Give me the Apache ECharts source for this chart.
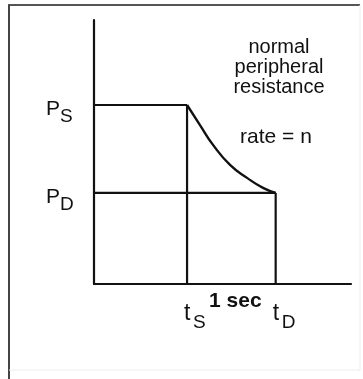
<!DOCTYPE html>
<html>
<head>
<meta charset="utf-8">
<script src="https://cdn.jsdelivr.net/npm/echarts@6/dist/echarts.min.js"></script>
<style>
  html, body { margin: 0; padding: 0; background: #fff; }
  #main { width: 363px; height: 379px; }
</style>
</head>
<body>
<div id="main"></div>
<script>
// time marks on x (seconds), t_S and t_D
var timeNames = ['S', 'D'];
var timeValues = [1.05, 2.05];
// pressure marks on y (arbitrary units), P_S and P_D
var pressureNames = ['S', 'D'];
var pressureValues = [67.8, 34.5];
// decay curve from P_S at t_S to P_D at t_D
var decayX = [1.05, 1.196, 1.343, 1.535, 1.727, 1.907, 2.05];
var decayY = [67.8, 60.2, 52.7, 45.1, 40.2, 36.4, 34.5];
var noteLines = ['normal', 'peripheral', 'resistance'];
var rateText = 'rate = n';
var spanText = '1 sec';

var ink = '#111';
var font = 'Liberation Sans, Arial, sans-serif';

var tS = timeValues[0], tD = timeValues[1];
var pS = pressureValues[0], pD = pressureValues[1];

function seg(a, b) {
  return {
    type: 'line', data: [a, b], symbol: 'none', silent: true,
    lineStyle: { color: ink, width: 2.2 }
  };
}

var curve = decayX.map(function (x, i) { return [x, decayY[i]]; });

var chart = echarts.init(document.getElementById('main'));
chart.setOption({
  animation: false,
  backgroundColor: '#fff',
  grid: { left: 94, right: 12, top: 20, bottom: 95 },
  xAxis: {
    type: 'value', min: 0, max: 2.9,
    axisLine: { show: true, lineStyle: { color: ink, width: 2.2 } },
    axisTick: { show: false }, axisLabel: { show: false }, splitLine: { show: false }
  },
  yAxis: {
    type: 'value', min: 0, max: 100,
    axisLine: { show: true, lineStyle: { color: ink, width: 2.2 } },
    axisTick: { show: false }, axisLabel: { show: false }, splitLine: { show: false }
  },
  series: [
    seg([0, pS], [tS, pS]),
    seg([tS, 0], [tS, pS]),
    seg([0, pD], [tD, pD]),
    seg([tD, 0], [tD, pD]),
    {
      type: 'line', data: curve, symbol: 'none', smooth: true, silent: true,
      lineStyle: { color: ink, width: 2.4 }
    }
  ]
});

// annotations placed from the axis positions
var origin = chart.convertToPixel({ gridIndex: 0 }, [0, 0]);
var g = [];

function txt(x, y, s, size, weight, align) {
  g.push({
    type: 'text', x: x, y: y, silent: true,
    style: {
      text: s, fill: ink, font: (weight || 'normal') + ' ' + size + 'px ' + font,
      textAlign: align || 'left', textVerticalAlign: 'middle'
    }
  });
}

pressureValues.forEach(function (v, i) {
  var p = chart.convertToPixel({ gridIndex: 0 }, [0, v]);
  txt(p[0] - 48, p[1] + 4, 'P', 21);
  txt(p[0] - 34, p[1] + 12, pressureNames[i], 19);
});

timeValues.forEach(function (v, i) {
  var p = chart.convertToPixel({ gridIndex: 0 }, [v, 0]);
  txt(p[0] - 3, origin[1] + 30, 't', 23);
  txt(p[0] + 6, origin[1] + 39, timeNames[i], 19);
});

var pS1 = chart.convertToPixel({ gridIndex: 0 }, [tS, 0]);
var pD1 = chart.convertToPixel({ gridIndex: 0 }, [tD, 0]);
txt((pS1[0] + pD1[0]) / 2 + 4, origin[1] + 17, spanText, 21, 'bold', 'center');

noteLines.forEach(function (s, i) {
  txt(279, 47 + i * 20, s, 20, 'normal', 'center');
});
txt(276, 137, rateText, 21, 'normal', 'center');

// frame round the figure
g.push({ type: 'line', silent: true, shape: { x1: 8, y1: 5, x2: 360, y2: 5 }, style: { stroke: '#555', lineWidth: 2 } });
g.push({ type: 'line', silent: true, shape: { x1: 9, y1: 5, x2: 9, y2: 379 }, style: { stroke: '#444', lineWidth: 2 } });
g.push({ type: 'line', silent: true, shape: { x1: 360, y1: 5, x2: 360, y2: 370 }, style: { stroke: '#eee', lineWidth: 1 } });
g.push({ type: 'line', silent: true, shape: { x1: 9, y1: 370, x2: 360, y2: 370 }, style: { stroke: '#eee', lineWidth: 1 } });

chart.setOption({ graphic: g });
</script>
</body>
</html>
